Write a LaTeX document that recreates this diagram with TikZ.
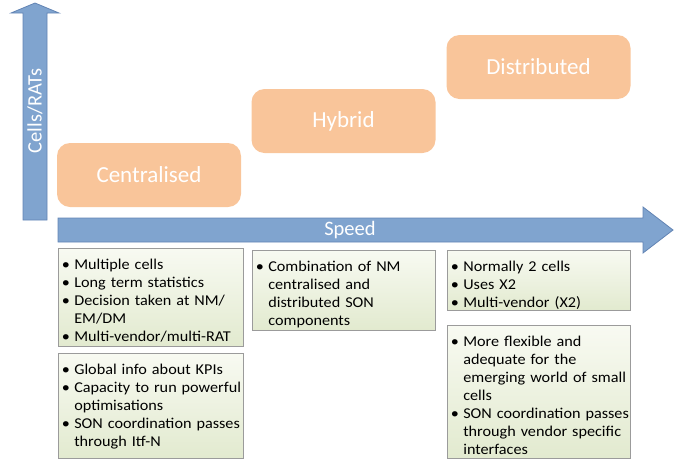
\documentclass[tikz,border=0pt]{standalone}
\usepackage{fontspec}
\setmainfont{Carlito}
\newfontfamily\listfont{Carlito}[FakeStretch=1.08]
\usetikzlibrary{positioning, shadows}

\definecolor{arrowblue}{RGB}{128,164,207}
\definecolor{arrowedge}{RGB}{98,132,180}
\definecolor{peach}{RGB}{249,197,154}
\definecolor{notetop}{RGB}{248,250,242}
\definecolor{notebottom}{RGB}{226,234,207}
\definecolor{noteedge}{RGB}{155,155,155}

\tikzstyle{axis} = [fill=arrowblue, draw=arrowedge, line width=0.8pt]
\tikzstyle{axislabel} = [text=white, inner sep=0pt, font=\fontsize{20.5}{24}\selectfont]
\tikzstyle{approach} = [rectangle, rounded corners=13pt, fill=peach, text=white, minimum width=184pt, minimum height=64pt, font=\fontsize{23}{27}\selectfont]
\tikzstyle{note} = [rectangle, draw=noteedge, line width=0.8pt, top color=notetop, bottom color=notebottom, drop shadow={shadow xshift=1.2pt, shadow yshift=-1.2pt, opacity=0.3, fill=black!60}]
\tikzstyle{notetext} = [anchor=north west, inner sep=0pt, text width=200pt, font=\listfont\fontsize{15}{18}\selectfont]

\newcommand{\bitem}[1]{\par\leftskip=12.5pt\noindent\llap{\makebox[12.5pt][l]{\rule{0pt}{11pt}\textbullet}}#1}

\begin{document}
\begin{tikzpicture}[x=1pt, y=-1pt]
\useasboundingbox (0,0) rectangle (689,459);

% axes
\draw [axis] (23,220) -- (23,13) -- (11,13) -- (35,3) -- (59,13) -- (47,13) -- (47,220) -- cycle;
\node (cells) [axislabel, rotate=90] at (35,111) {Cells/RATs};
\draw [axis] (58,218) -- (643,218) -- (643,207) -- (673,230) -- (643,253) -- (643,242) -- (58,242) -- cycle;
\node (speed) [axislabel] at (350,230) {Speed};

% approaches
\node (cent) [approach] at (149,175) {Centralised};
\node (hyb) [approach] at (343.5,121) {Hybrid};
\node (dist) [approach] at (538.5,67) {Distributed};

% notes
\node (cnote1) [note, minimum width=185pt, minimum height=98pt] at (150.5,297) {};
\node (cnote1text) [notetext] at ([xshift=4pt, yshift=-4pt]cnote1.north west) {\raggedright
\bitem{Multiple cells}
\bitem{Long term statistics}
\bitem{Decision taken at NM/\newline EM/DM}
\bitem{Multi-vendor/multi-RAT}\par};

\node (cnote2) [note, minimum width=185pt, minimum height=105pt] at (150.5,405.5) {};
\node (cnote2text) [notetext] at ([xshift=4pt, yshift=-4pt]cnote2.north west) {\raggedright
\bitem{Global info about KPIs}
\bitem{Capacity to run powerful\newline optimisations}
\bitem{SON coordination passes\newline through Itf-N}\par};

\node (hnote) [note, minimum width=183pt, minimum height=80pt] at (343.5,290) {};
\node (hnotetext) [notetext] at ([xshift=4pt, yshift=-4pt]hnote.north west) {\raggedright
\bitem{Combination of NM\newline centralised and\newline distributed SON\newline components}\par};

\node (dnote1) [note, minimum width=183pt, minimum height=60pt] at (538.5,280) {};
\node (dnote1text) [notetext] at ([xshift=4pt, yshift=-4pt]dnote1.north west) {\raggedright
\bitem{Normally 2 cells}
\bitem{Uses X2}
\bitem{Multi-vendor (X2)}\par};

\node (dnote2) [note, minimum width=183pt, minimum height=133pt] at (538.5,391.5) {};
\node (dnote2text) [notetext] at ([xshift=4pt, yshift=-4pt]dnote2.north west) {\raggedright
\bitem{More flexible and\newline adequate for the\newline emerging world of small\newline cells}
\bitem{SON coordination passes\newline through vendor specific\newline interfaces}\par};

\end{tikzpicture}
\end{document}
